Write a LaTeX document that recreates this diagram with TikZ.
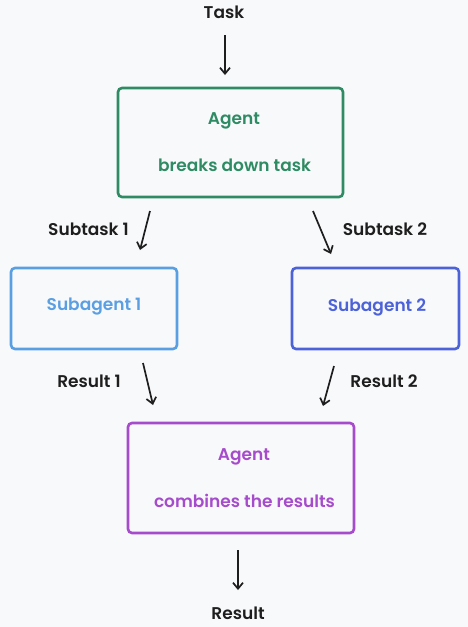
\documentclass[tikz,border=0pt]{standalone}
\usepackage{fontspec}
\setmainfont{Poppins}[UprightFont=* Medium, BoldFont=* SemiBold]
\usetikzlibrary{arrows.meta}
\definecolor{bgc}{HTML}{F8F9FB}
\definecolor{ink}{HTML}{1E1E1E}
\definecolor{cgreen}{HTML}{2E8B63}
\definecolor{clblue}{HTML}{5B9FE3}
\definecolor{cblue}{HTML}{4C62D8}
\definecolor{cpurple}{HTML}{A64BCB}
\tikzset{
  lbl/.style={font=\fontsize{17}{19}\selectfont\bfseries, text=ink, inner sep=0pt},
  boxtxt/.style={font=\fontsize{17}{19}\selectfont\bfseries, inner sep=0pt},
  card/.style={draw=#1, line width=2.6pt, rounded corners=4pt, fill=bgc},
  arr/.style={draw=ink, line width=1.7pt, -{Straight Barb[length=6pt,width=10pt,line width=1.7pt]}},
}
\begin{document}
\begin{tikzpicture}[x=1pt,y=-1pt]
\fill[bgc] (0,0) rectangle (468,627);
\useasboundingbox (0,0) rectangle (468,627);

% boxes
\draw[card=cgreen] (118,88) rectangle (343,197);
\draw[card=clblue] (11,268) rectangle (177,349);
\draw[card=cblue] (292,268) rectangle (459,349);
\draw[card=cpurple] (128,423) rectangle (354,533);

% box texts
\node[boxtxt, text=cgreen] (a1t) at (234,121) {Agent};
\node[boxtxt, text=cgreen] (a1s) at (234.5,165) {breaks down task};
\node[boxtxt, text=clblue] (s1) at (94,307) {Subagent 1};
\node[boxtxt, text=cblue] (s2) at (377,307) {Subagent 2};
\node[boxtxt, text=cpurple] (a2t) at (244,457) {Agent};
\node[boxtxt, text=cpurple] (a2s) at (244.5,501) {combines the results};

% labels
\node[lbl] (task) at (224,12) {Task};
\node[lbl] (lsub1) at (88.5,229) {Subtask 1};
\node[lbl] (lsub2) at (385,229) {Subtask 2};
\node[lbl] (lres1) at (89,381) {Result 1};
\node[lbl] (lres2) at (384,381) {Result 2};
\node[lbl] (result) at (238,613) {Result};

% arrow endpoints
\coordinate (t0) at (225,35);   \coordinate (t1) at (225,75);
\coordinate (u0) at (150,211);  \coordinate (u1) at (140,250);
\coordinate (v0) at (313,211);  \coordinate (v1) at (331,254);
\coordinate (r0) at (143,363);  \coordinate (r1) at (153,405);
\coordinate (q0) at (334,366);  \coordinate (q1) at (323,406);
\coordinate (f0) at (238,550);  \coordinate (f1) at (238,590);

\draw[arr] (t0) -- (t1);
\draw[arr] (u0) -- (u1);
\draw[arr] (v0) -- (v1);
\draw[arr] (r0) -- (r1);
\draw[arr] (q0) -- (q1);
\draw[arr] (f0) -- (f1);
\end{tikzpicture}
\end{document}
